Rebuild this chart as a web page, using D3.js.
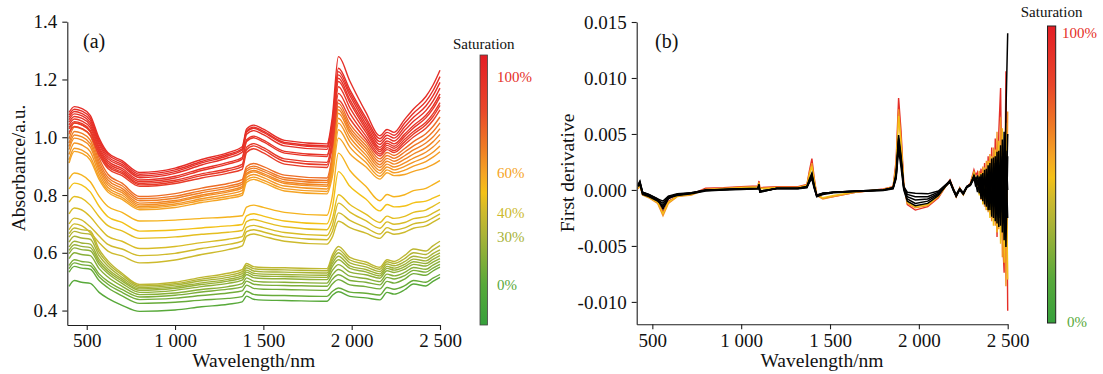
<!DOCTYPE html>
<html>
<head>
<meta charset="utf-8">
<script src="https://d3js.org/d3.v7.min.js"></script>
<style>
  body { margin: 0; background: #fff; }
  svg { display: block; }
</style>
</head>
<body>
<svg id="chart" width="1103" height="374"></svg>
<script>
// ---- (a) absorbance spectra, one row per sample ----
const absWavelengths = [400, 430, 470, 520, 570, 620, 700, 800, 1000, 1150, 1300, 1380, 1405, 1445, 1500, 1620, 1860, 1890, 1925, 1990, 2080, 2160, 2200, 2240, 2300, 2350, 2420, 2460, 2500];

const redSat = [100, 100, 99, 98, 97, 96, 95, 94, 92];
const redSpectra = [
  [1.086, 1.106, 1.100, 1.076, 0.997, 0.946, 0.919, 0.878, 0.893, 0.923, 0.947, 0.967, 1.029, 1.042, 1.028, 0.989, 0.977, 1.068, 1.279, 1.194, 1.087, 1.005, 1.027, 1.017, 1.062, 1.098, 1.141, 1.180, 1.232],
  [1.077, 1.097, 1.091, 1.067, 0.989, 0.940, 0.913, 0.872, 0.887, 0.916, 0.941, 0.960, 1.022, 1.035, 1.021, 0.982, 0.970, 1.051, 1.239, 1.164, 1.068, 0.995, 1.017, 1.007, 1.049, 1.083, 1.124, 1.161, 1.210],
  [1.069, 1.089, 1.083, 1.059, 0.982, 0.933, 0.906, 0.866, 0.881, 0.911, 0.936, 0.956, 1.018, 1.031, 1.017, 0.978, 0.966, 1.044, 1.227, 1.154, 1.058, 0.985, 1.007, 0.997, 1.036, 1.069, 1.108, 1.143, 1.190],
  [1.061, 1.081, 1.075, 1.051, 0.975, 0.926, 0.900, 0.860, 0.875, 0.904, 0.929, 0.948, 1.010, 1.023, 1.009, 0.970, 0.958, 1.035, 1.216, 1.144, 1.047, 0.975, 0.997, 0.987, 1.024, 1.055, 1.092, 1.125, 1.170],
  [1.052, 1.072, 1.066, 1.042, 0.966, 0.918, 0.892, 0.852, 0.865, 0.891, 0.913, 0.930, 0.991, 1.004, 0.990, 0.951, 0.939, 1.019, 1.204, 1.130, 1.037, 0.965, 0.987, 0.977, 1.011, 1.041, 1.076, 1.108, 1.150],
  [1.043, 1.063, 1.057, 1.033, 0.959, 0.911, 0.885, 0.846, 0.859, 0.885, 0.907, 0.924, 0.985, 0.998, 0.984, 0.945, 0.933, 1.011, 1.193, 1.120, 1.028, 0.957, 0.979, 0.969, 1.003, 1.032, 1.067, 1.098, 1.140],
  [1.034, 1.054, 1.048, 1.024, 0.951, 0.904, 0.879, 0.840, 0.851, 0.873, 0.891, 0.906, 0.965, 0.978, 0.964, 0.925, 0.913, 0.992, 1.175, 1.102, 1.018, 0.950, 0.972, 0.962, 0.993, 1.020, 1.052, 1.081, 1.120],
  [1.029, 1.049, 1.043, 1.019, 0.946, 0.899, 0.874, 0.835, 0.846, 0.867, 0.884, 0.898, 0.957, 0.970, 0.956, 0.917, 0.905, 0.979, 1.152, 1.083, 1.005, 0.942, 0.964, 0.954, 0.984, 1.011, 1.043, 1.071, 1.110],
  [1.017, 1.037, 1.031, 1.007, 0.938, 0.892, 0.867, 0.830, 0.840, 0.859, 0.876, 0.889, 0.947, 0.960, 0.946, 0.907, 0.895, 0.965, 1.129, 1.064, 0.993, 0.935, 0.957, 0.947, 0.975, 1.001, 1.031, 1.058, 1.095]
];

const orangeSat = [75, 72, 70, 68, 66, 64, 62, 60];
const orangeSpectra = [
  [1.010, 1.050, 1.044, 1.020, 0.928, 0.872, 0.841, 0.795, 0.805, 0.824, 0.840, 0.853, 0.899, 0.909, 0.898, 0.869, 0.859, 0.937, 1.118, 1.046, 0.983, 0.925, 0.947, 0.937, 0.961, 0.985, 1.012, 1.037, 1.070],
  [0.995, 1.035, 1.029, 1.005, 0.916, 0.861, 0.832, 0.787, 0.796, 0.815, 0.831, 0.844, 0.890, 0.900, 0.889, 0.860, 0.850, 0.927, 1.106, 1.034, 0.972, 0.915, 0.937, 0.927, 0.949, 0.970, 0.996, 1.019, 1.050],
  [0.980, 1.020, 1.014, 0.990, 0.905, 0.852, 0.823, 0.780, 0.789, 0.808, 0.824, 0.837, 0.883, 0.893, 0.882, 0.853, 0.843, 0.919, 1.095, 1.024, 0.962, 0.905, 0.927, 0.917, 0.936, 0.956, 0.980, 1.001, 1.030],
  [0.968, 1.008, 1.002, 0.978, 0.895, 0.843, 0.815, 0.772, 0.781, 0.800, 0.816, 0.829, 0.875, 0.885, 0.874, 0.845, 0.835, 0.909, 1.083, 1.014, 0.951, 0.895, 0.917, 0.907, 0.924, 0.942, 0.964, 0.984, 1.010],
  [0.957, 0.997, 0.991, 0.967, 0.886, 0.835, 0.808, 0.766, 0.776, 0.795, 0.811, 0.824, 0.870, 0.880, 0.869, 0.840, 0.830, 0.901, 1.066, 1.000, 0.939, 0.885, 0.907, 0.897, 0.911, 0.928, 0.948, 0.966, 0.990],
  [0.940, 0.980, 0.974, 0.950, 0.874, 0.826, 0.800, 0.760, 0.769, 0.787, 0.803, 0.815, 0.861, 0.871, 0.860, 0.831, 0.821, 0.889, 1.049, 0.985, 0.927, 0.875, 0.897, 0.887, 0.899, 0.914, 0.932, 0.948, 0.970],
  [0.922, 0.962, 0.956, 0.932, 0.863, 0.817, 0.792, 0.755, 0.764, 0.781, 0.795, 0.806, 0.852, 0.862, 0.851, 0.822, 0.812, 0.876, 1.026, 0.966, 0.913, 0.865, 0.887, 0.877, 0.886, 0.900, 0.916, 0.931, 0.950],
  [0.911, 0.951, 0.945, 0.921, 0.854, 0.810, 0.785, 0.749, 0.757, 0.774, 0.788, 0.799, 0.844, 0.854, 0.843, 0.814, 0.804, 0.862, 0.997, 0.943, 0.898, 0.855, 0.877, 0.867, 0.871, 0.882, 0.894, 0.905, 0.920]
];

const yellowSat = [55, 50, 46, 43, 41, 40];
const yellowSpectra = [
  [0.856, 0.876, 0.870, 0.846, 0.796, 0.760, 0.740, 0.710, 0.713, 0.719, 0.724, 0.728, 0.758, 0.765, 0.757, 0.740, 0.730, 0.795, 0.945, 0.885, 0.830, 0.780, 0.802, 0.794, 0.801, 0.815, 0.823, 0.836, 0.850],
  [0.821, 0.841, 0.835, 0.811, 0.761, 0.725, 0.705, 0.675, 0.679, 0.686, 0.693, 0.698, 0.728, 0.735, 0.727, 0.710, 0.700, 0.754, 0.881, 0.830, 0.786, 0.745, 0.767, 0.759, 0.762, 0.773, 0.779, 0.789, 0.800],
  [0.775, 0.795, 0.789, 0.765, 0.725, 0.694, 0.676, 0.650, 0.655, 0.664, 0.671, 0.677, 0.708, 0.715, 0.707, 0.690, 0.680, 0.716, 0.801, 0.767, 0.734, 0.705, 0.727, 0.719, 0.726, 0.740, 0.748, 0.761, 0.775],
  [0.735, 0.755, 0.749, 0.725, 0.688, 0.657, 0.640, 0.615, 0.622, 0.635, 0.647, 0.656, 0.688, 0.695, 0.687, 0.670, 0.660, 0.694, 0.772, 0.741, 0.711, 0.685, 0.707, 0.699, 0.705, 0.718, 0.725, 0.737, 0.750],
  [0.700, 0.720, 0.714, 0.690, 0.658, 0.629, 0.613, 0.590, 0.598, 0.615, 0.629, 0.640, 0.673, 0.680, 0.672, 0.655, 0.645, 0.673, 0.738, 0.712, 0.687, 0.665, 0.687, 0.679, 0.686, 0.700, 0.708, 0.721, 0.735],
  [0.680, 0.700, 0.694, 0.670, 0.635, 0.606, 0.589, 0.565, 0.575, 0.594, 0.611, 0.624, 0.658, 0.665, 0.657, 0.640, 0.630, 0.654, 0.709, 0.687, 0.668, 0.650, 0.672, 0.664, 0.671, 0.685, 0.693, 0.706, 0.720]
];

const greenSat = [36, 33, 30, 27, 24, 21, 18, 14, 10, 6, 0];
const greenSpectra = [
  [0.666, 0.686, 0.680, 0.676, 0.612, 0.572, 0.529, 0.490, 0.498, 0.515, 0.529, 0.542, 0.563, 0.552, 0.549, 0.548, 0.545, 0.591, 0.622, 0.584, 0.568, 0.550, 0.576, 0.570, 0.591, 0.613, 0.606, 0.624, 0.640],
  [0.654, 0.674, 0.668, 0.664, 0.602, 0.564, 0.523, 0.485, 0.493, 0.509, 0.522, 0.535, 0.556, 0.545, 0.542, 0.541, 0.538, 0.582, 0.611, 0.575, 0.560, 0.543, 0.569, 0.563, 0.580, 0.600, 0.594, 0.610, 0.625],
  [0.637, 0.657, 0.651, 0.647, 0.590, 0.554, 0.515, 0.480, 0.488, 0.503, 0.515, 0.528, 0.548, 0.537, 0.534, 0.533, 0.530, 0.572, 0.600, 0.565, 0.551, 0.535, 0.561, 0.555, 0.569, 0.588, 0.582, 0.597, 0.610],
  [0.620, 0.640, 0.634, 0.630, 0.577, 0.544, 0.508, 0.475, 0.482, 0.496, 0.508, 0.520, 0.540, 0.529, 0.526, 0.525, 0.522, 0.562, 0.588, 0.555, 0.542, 0.527, 0.553, 0.547, 0.560, 0.578, 0.572, 0.587, 0.600],
  [0.608, 0.628, 0.622, 0.618, 0.568, 0.536, 0.502, 0.470, 0.477, 0.490, 0.502, 0.513, 0.533, 0.522, 0.519, 0.518, 0.515, 0.552, 0.576, 0.546, 0.534, 0.520, 0.546, 0.540, 0.552, 0.569, 0.563, 0.577, 0.590],
  [0.597, 0.617, 0.611, 0.607, 0.559, 0.528, 0.494, 0.463, 0.470, 0.483, 0.494, 0.505, 0.525, 0.514, 0.511, 0.510, 0.507, 0.538, 0.559, 0.533, 0.524, 0.512, 0.538, 0.532, 0.543, 0.560, 0.554, 0.568, 0.580],
  [0.580, 0.600, 0.594, 0.590, 0.545, 0.516, 0.484, 0.455, 0.461, 0.473, 0.483, 0.493, 0.513, 0.502, 0.499, 0.498, 0.495, 0.523, 0.542, 0.519, 0.511, 0.500, 0.526, 0.520, 0.532, 0.549, 0.543, 0.557, 0.570],
  [0.556, 0.576, 0.570, 0.566, 0.527, 0.501, 0.473, 0.447, 0.453, 0.464, 0.474, 0.482, 0.502, 0.491, 0.488, 0.487, 0.484, 0.508, 0.524, 0.504, 0.498, 0.489, 0.515, 0.509, 0.521, 0.539, 0.533, 0.547, 0.560],
  [0.545, 0.565, 0.559, 0.555, 0.517, 0.491, 0.463, 0.438, 0.443, 0.452, 0.461, 0.468, 0.488, 0.477, 0.474, 0.473, 0.470, 0.492, 0.507, 0.489, 0.483, 0.475, 0.501, 0.495, 0.509, 0.528, 0.522, 0.537, 0.550],
  [0.533, 0.553, 0.547, 0.543, 0.504, 0.479, 0.451, 0.425, 0.429, 0.436, 0.442, 0.448, 0.467, 0.456, 0.453, 0.452, 0.449, 0.466, 0.478, 0.464, 0.460, 0.454, 0.480, 0.474, 0.486, 0.504, 0.498, 0.512, 0.525],
  [0.484, 0.504, 0.498, 0.494, 0.463, 0.442, 0.418, 0.397, 0.402, 0.413, 0.422, 0.430, 0.450, 0.439, 0.436, 0.435, 0.432, 0.452, 0.465, 0.449, 0.444, 0.437, 0.463, 0.457, 0.472, 0.492, 0.485, 0.501, 0.515]
];

// ---- (b) first derivative, values in units of 1e-3 ----
const derivWavelengths = [420, 430, 445, 480, 530, 560, 590, 640, 720, 800, 900, 1000, 1095, 1100, 1105, 1200, 1320, 1370, 1385, 1398, 1410, 1425, 1460, 1520, 1650, 1800, 1855, 1872, 1886, 1900, 1915, 1935, 1980, 2050, 2110, 2150, 2175, 2195, 2210, 2230, 2250, 2270, 2290, 2310, 2320, 2330, 2340, 2350, 2360, 2370, 2380, 2390, 2400, 2410, 2420, 2430, 2440, 2450, 2460, 2470, 2480, 2490, 2500];

const derivColoredSat = [100, 65, 50];
const derivColored = [
  [0.2, 0.5, -0.4, -0.6, -1.0, -2.0, -1.0, -0.55, -0.4, 0.15, 0.2, 0.3, 0.35, 0.8, 0.2, 0.3, 0.3, 0.5, 1.8, 2.8, 1.2, -0.4, -0.75, -0.6, -0.2, 0.1, 0.3, 2.6, 8.2, 5.2, 0.6, -1.3, -1.8, -1.5, -0.7, 0.3, 0.9, 0.1, -0.6, 0.2, -0.4, 0.3, 0.6, 1.8, 1.3, 1.6, 0.0, 1.9, -1.2, 2.4, -1.8, 3.0, -2.2, 3.8, -2.6, 4.6, -4.2, 5.2, 9.1, -4.0, -7.4, 10.6, -10.8],
  [0.1, 0.4, -0.45, -0.7, -1.2, -2.3, -1.2, -0.6, -0.45, 0.05, 0.15, 0.25, 0.3, 0.7, 0.15, 0.25, 0.25, 0.45, 1.6, 2.4, 1.0, -0.5, -0.8, -0.6, -0.2, 0.05, 0.25, 2.2, 7.2, 4.5, 0.5, -1.2, -1.6, -1.4, -0.6, 0.3, 0.85, 0.05, -0.6, 0.15, -0.45, 0.25, 0.55, 1.6, 1.1, 0.2, 1.7, -0.9, 2.1, -1.5, 2.6, -2.0, 3.2, -2.8, 3.8, -3.2, 5.2, -3.5, 6.5, -6.0, 3.0, -8.6, 7.0],
  [0.2, 0.45, -0.4, -0.65, -1.1, -2.1, -1.1, -0.55, -0.4, 0.05, 0.1, 0.2, 0.25, 0.6, 0.1, 0.2, 0.2, 0.4, 1.4, 2.1, 0.9, -0.45, -0.7, -0.5, -0.15, 0.05, 0.25, 2.0, 6.6, 4.0, 0.4, -1.1, -1.5, -1.3, -0.55, 0.3, 0.8, 0.05, -0.55, 0.15, -0.4, 0.25, 0.5, 1.5, 1.0, 1.2, -0.5, 1.5, -1.3, 2.0, -1.8, 2.6, -2.5, 3.0, -3.2, 3.6, -3.8, 4.4, -4.8, 5.5, -6.5, 6.0, -8.0]
];

const derivBlack = [
  [0.5, 0.8, -0.2, -0.4, -0.8, -1.6, -0.8, -0.4, -0.3, 0.0, 0.05, 0.1, 0.15, 0.5, -0.2, 0.15, 0.15, 0.3, 1.0, 1.5, 0.5, -0.5, -0.3, -0.2, -0.1, 0.0, 0.2, 1.5, 4.9, 3.0, 0.3, -0.6, -0.9, -0.8, -0.3, 0.4, 0.8, 0.0, -0.5, 0.1, -0.3, 0.3, 0.5, 1.2, 0.8, 1.3, -0.3, 1.4, -1.0, 1.8, -1.5, 2.2, -1.8, 2.8, -2.5, 3.0, -3.0, 3.5, -3.2, 4.5, -4.5, 6.9, 14.0],
  [0.3, 0.5, -0.4, -0.6, -1.0, -1.4, -0.7, -0.5, -0.35, -0.1, 0.0, 0.05, 0.1, 0.4, -0.1, 0.1, 0.1, 0.2, 0.8, 1.2, 0.3, -0.6, -0.4, -0.25, -0.15, -0.05, 0.1, 1.2, 4.2, 2.5, 0.1, -0.8, -1.2, -1.0, -0.4, 0.3, 0.7, -0.1, -0.6, 0.0, -0.4, 0.2, 0.4, 1.0, 0.6, -0.2, 1.1, -0.8, 1.5, -1.3, 1.9, -1.8, 2.4, -2.4, 2.9, -2.8, 3.4, -3.3, 4.0, -3.8, 5.2, -5.1, 3.0],
  [0.4, 0.6, -0.3, -0.5, -0.9, -1.2, -0.6, -0.45, -0.3, -0.05, 0.02, 0.08, 0.12, 0.45, -0.15, 0.12, 0.12, 0.25, 0.7, 1.0, 0.2, -0.55, -0.35, -0.2, -0.12, -0.02, 0.15, 1.0, 3.6, 2.0, 0.0, -1.0, -1.4, -1.2, -0.5, 0.35, 0.75, -0.05, -0.55, 0.05, -0.35, 0.25, 0.45, 1.1, 0.3, 0.9, 0.0, 0.6, 0.2, -0.5, 0.9, 0.4, -1.2, 1.0, 1.5, -1.5, -0.5, 2.2, 0.8, -2.0, 1.0, 2.5, -2.5],
  [0.35, 0.7, -0.25, -0.45, -0.85, -1.7, -0.75, -0.4, -0.25, 0.0, 0.05, 0.1, 0.12, 0.5, -0.2, 0.15, 0.15, 0.3, 0.9, 1.4, 0.4, -0.5, -0.3, -0.2, -0.1, 0.0, 0.2, 1.3, 4.6, 2.8, 0.2, -0.4, -0.6, -0.6, -0.2, 0.4, 0.85, 0.0, -0.45, 0.1, -0.3, 0.3, 0.5, 1.3, 0.9, 0.4, 1.2, 0.0, 1.0, -0.6, 0.5, 1.2, 0.0, -1.0, 2.0, 0.5, -2.0, 1.0, 2.5, 0.0, -3.0, 3.5, 0.0],
  [0.4, 0.65, -0.2, -0.4, -0.8, -1.0, -0.55, -0.35, -0.25, -0.02, 0.03, 0.1, 0.12, 0.4, -0.1, 0.12, 0.12, 0.25, 0.8, 1.3, 0.35, -0.45, -0.3, -0.2, -0.1, 0.0, 0.2, 1.2, 4.4, 2.6, 0.3, -0.2, -0.3, -0.35, -0.1, 0.45, 0.8, 0.05, -0.4, 0.1, -0.25, 0.3, 0.5, 1.2, 1.0, 0.6, 0.9, 0.3, -0.2, 1.2, -0.8, 0.6, 1.6, -1.5, 0.3, 2.4, 1.0, -2.5, 1.5, 3.0, -1.5, -2.0, 5.0]
];

// axis ticks and colour bar labels
const wlTicks = [500, 1000, 1500, 2000, 2500];
const absTicks = [0.4, 0.6, 0.8, 1.0, 1.2, 1.4];
const derivTicks = [-10, -5, 0, 5, 10, 15];
const satTicksA = [0, 30, 40, 60, 100];
const satTicksB = [0, 100];

// colour bar (bottom -> top)
const barStops = [0, 0.15, 0.33, 0.42, 0.49, 0.56, 0.66, 0.8, 1];
const barColors = ['#36a03b', '#58a93a', '#a9b337', '#cfba2c', '#f4c117', '#f5a524', '#ef7b24', '#e9462a', '#e31d25'];

const serif = '"Liberation Serif", "Times New Roman", Times, serif';
const svg = d3.select('#chart');

const barColor = d3.scaleLinear().domain(barStops).range(barColors).clamp(true);
// position of each saturation level on the bar of (a)
const satPos = d3.scaleLinear().domain(satTicksA).range([0.148, 0.326, 0.415, 0.563, 0.918]).clamp(true);
const satColor = s => barColor(satPos(s));

const fmtWl = d3.formatLocale({ decimal: '.', thousands: ' ', grouping: [3], currency: ['', ''] }).format(',');

const grad = svg.append('defs').append('linearGradient')
  .attr('id', 'satGrad').attr('x1', 0).attr('y1', 1).attr('x2', 0).attr('y2', 0);
barStops.forEach((s, i) => grad.append('stop').attr('offset', s).attr('stop-color', barColors[i]));

function styleAxis(g) {
  g.attr('font-family', serif).attr('font-size', 19);
  g.selectAll('.domain, .tick line').attr('stroke', '#1e1e1e').attr('stroke-width', 1.1);
  g.selectAll('.tick text').attr('fill', '#111');
}

function addText(x, y, txt, size, opts = {}) {
  const t = svg.append('text')
    .attr('x', x).attr('y', y)
    .attr('font-family', serif).attr('font-size', size)
    .attr('fill', opts.fill || '#111')
    .attr('text-anchor', opts.anchor || 'start')
    .text(txt);
  if (opts.rotate) t.attr('transform', `rotate(-90,${x},${y})`).attr('dy', '0.35em');
  if (opts.dy) t.attr('dy', opts.dy);
  return t;
}

// ================= panel (a) =================
const xA = d3.scaleLinear().domain([390, 2500]).range([67.3, 440]);
const yA = d3.scaleLinear().domain([0.35, 1.4]).range([325, 21.7]);

const lineA = d3.line()
  .x((d, i) => xA(absWavelengths[i]))
  .y(d => yA(d))
  .curve(d3.curveMonotoneX);

const gA = svg.append('g');
[[greenSpectra, greenSat], [yellowSpectra, yellowSat], [orangeSpectra, orangeSat], [redSpectra, redSat]]
  .forEach(([curves, sats]) => {
    gA.append('g').selectAll('path')
      .data(curves)
      .join('path')
      .attr('fill', 'none')
      .attr('stroke', (d, i) => satColor(sats[i]))
      .attr('stroke-width', 1.4)
      .attr('d', lineA);
  });

svg.append('g')
  .attr('transform', 'translate(0,325)')
  .call(d3.axisBottom(xA).tickValues(wlTicks).tickFormat(fmtWl).tickSize(5).tickSizeOuter(0).tickPadding(4))
  .call(styleAxis);

svg.append('g')
  .attr('transform', 'translate(67.3,0)')
  .call(d3.axisLeft(yA).tickValues(absTicks).tickFormat(d3.format('.1f')).tickSize(5).tickSizeOuter(0).tickPadding(5))
  .call(styleAxis);

addText(83, 48, '(a)', 20);
addText(253.7, 367, 'Wavelength/nm', 19.5, { anchor: 'middle' });
addText(18, 168, 'Absorbance/a.u.', 19.5, { anchor: 'middle', rotate: true });

// colour bar (a)
const barA = { x: 480, y: 55, w: 7.5, h: 270 };
const barYA = d3.scaleLinear().domain([0, 1]).range([barA.y + barA.h, barA.y]);
svg.append('rect')
  .attr('x', barA.x).attr('y', barA.y).attr('width', barA.w).attr('height', barA.h)
  .attr('fill', 'url(#satGrad)').attr('stroke', '#444').attr('stroke-width', 0.8);
addText(barA.x + barA.w / 2, 49, 'Saturation', 15, { anchor: 'middle' });
satTicksA.forEach(s => {
  addText(497, barYA(satPos(s)), s + '%', 15, { fill: satColor(s), dy: '0.35em' });
});

// ================= panel (b) =================
const xB = d3.scaleLinear().domain([412, 2500]).range([636.7, 1007.7]);
const yB = d3.scaleLinear().domain([-12, 15]).range([324.3, 22]);

const lineB = d3.line()
  .x((d, i) => xB(derivWavelengths[i]))
  .y(d => yB(d));

const gB = svg.append('g');
gB.append('g').selectAll('path')
  .data(derivColored)
  .join('path')
  .attr('fill', 'none')
  .attr('stroke', (d, i) => satColor(derivColoredSat[i]))
  .attr('stroke-width', 1.4)
  .attr('d', lineB);
gB.append('g').selectAll('path')
  .data(derivBlack)
  .join('path')
  .attr('fill', 'none')
  .attr('stroke', '#000')
  .attr('stroke-width', 1.5)
  .attr('d', lineB);

svg.append('g')
  .attr('transform', 'translate(0,324.3)')
  .call(d3.axisBottom(xB).tickValues(wlTicks).tickFormat(fmtWl).tickSize(5).tickSizeOuter(0).tickPadding(4))
  .call(styleAxis);

svg.append('g')
  .attr('transform', 'translate(636.7,0)')
  .call(d3.axisLeft(yB).tickValues(derivTicks).tickFormat(d => (d / 1000).toFixed(3)).tickSize(5).tickSizeOuter(0).tickPadding(5))
  .call(styleAxis);

addText(655, 48, '(b)', 20);
addText(822, 367, 'Wavelength/nm', 19.5, { anchor: 'middle' });
addText(567, 173, 'First derivative', 19.5, { anchor: 'middle', rotate: true });

// colour bar (b)
const barB = { x: 1047.5, y: 26, w: 8.2, h: 297 };
const barYB = d3.scaleLinear().domain([0, 100]).range([322, 33]);
svg.append('rect')
  .attr('x', barB.x).attr('y', barB.y).attr('width', barB.w).attr('height', barB.h)
  .attr('fill', 'url(#satGrad)').attr('stroke', '#222').attr('stroke-width', 1);
addText(barB.x + barB.w / 2, 17, 'Saturation', 15, { anchor: 'middle' });
satTicksB.forEach(s => {
  addText(s === 0 ? 1067 : 1062, barYB(s), s + '%', 15, { fill: satColor(s), dy: '0.35em' });
});
</script>
</body>
</html>
